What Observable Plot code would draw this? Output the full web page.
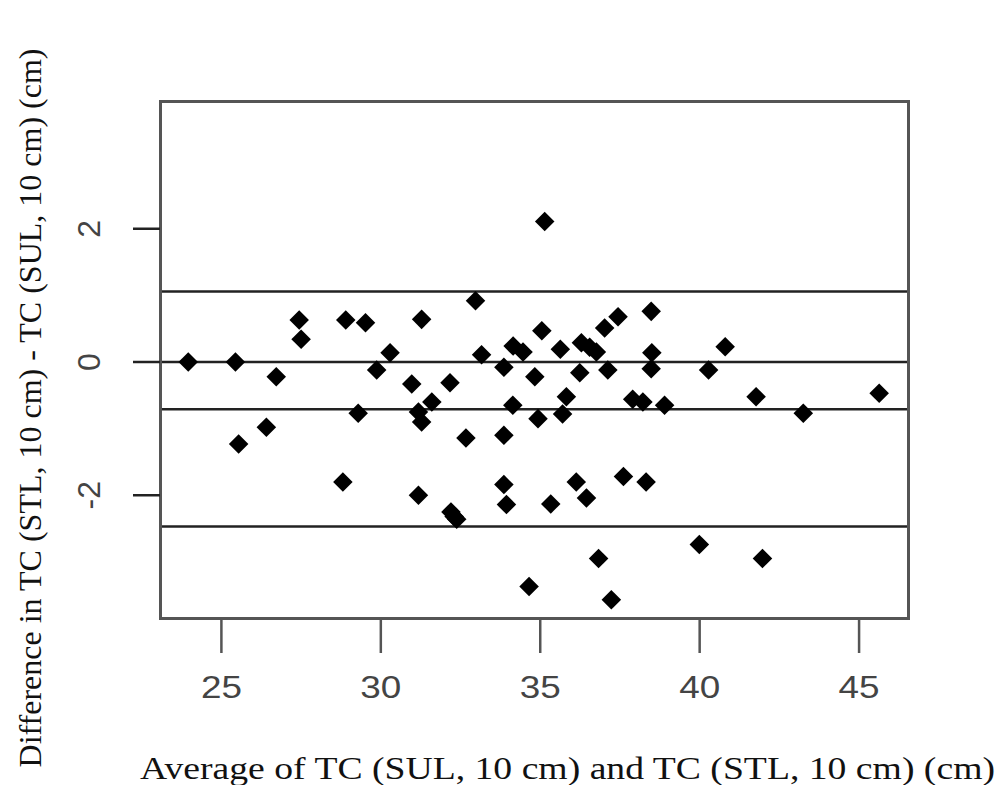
<!DOCTYPE html>
<html>
<head>
<meta charset="utf-8">
<script src="https://cdn.jsdelivr.net/npm/d3@7"></script>
<script src="https://cdn.jsdelivr.net/npm/@observablehq/plot@0.6"></script>
<style>
  html, body { margin: 0; padding: 0; background: #fff; }
</style>
</head>
<body>
<div id="chart"></div>
<script>
// Average of the two measurements (x) and their difference (y)
const avgTC = [23.96, 25.44, 26.72, 27.44, 27.50, 28.90, 29.52, 29.87, 30.29, 35.14,
  32.97, 31.28, 35.05, 33.16, 33.86, 34.15, 34.46, 35.63, 36.29, 36.55,
  36.76, 37.02, 37.44, 36.24, 37.12, 38.48, 38.50, 38.48, 34.83, 32.17,
  30.97, 40.80, 40.28, 29.29, 26.41, 25.54, 28.81, 31.60, 31.18, 31.28,
  34.14, 35.82, 34.93, 35.70, 37.90, 38.22, 38.90, 32.67, 33.86, 31.18,
  32.20, 32.30, 32.38, 33.86, 33.94, 35.33, 36.13, 36.45, 37.61, 38.32,
  36.83, 34.65, 37.23, 41.77, 43.25, 45.63, 39.99, 41.97];
const diffTC = [0.00, 0.00, -0.22, 0.63, 0.34, 0.63, 0.59, -0.12, 0.14, 2.11,
  0.92, 0.64, 0.47, 0.11, -0.08, 0.24, 0.15, 0.19, 0.29, 0.22,
  0.15, 0.51, 0.68, -0.16, -0.12, 0.76, 0.14, -0.10, -0.22, -0.31,
  -0.33, 0.23, -0.12, -0.77, -0.98, -1.23, -1.80, -0.60, -0.75, -0.90,
  -0.65, -0.52, -0.85, -0.78, -0.56, -0.60, -0.65, -1.14, -1.10, -2.00,
  -2.25, -2.32, -2.36, -1.84, -2.14, -2.13, -1.80, -2.04, -1.72, -1.80,
  -2.95, -3.37, -3.57, -0.52, -0.77, -0.47, -2.74, -2.95];
// Reference lines: upper limit, zero, mean difference, lower limit
const refLines = [1.06, 0, -0.71, -2.47];
const xTicks = [25, 30, 35, 40, 45];
const yTicks = [-2, 0, 2];
const xLabel = "Average of TC (SUL, 10 cm) and TC (STL, 10 cm) (cm)";
const yLabel = "Difference in TC (STL, 10 cm) - TC (SUL, 10 cm) (cm)";

const points = avgTC.map((x, i) => ({x, y: diffTC[i]}));

const chart = Plot.plot({
  width: 1000,
  height: 785,
  marginLeft: 160,
  marginRight: 92,
  marginTop: 101,
  marginBottom: 167,
  x: {domain: [23.09, 46.55]},
  y: {domain: [-3.85, 3.91]},
  style: {fontFamily: "Liberation Sans, Arial, sans-serif", fontSize: "32px", background: "#fff", color: "#444", overflow: "visible"},
  marks: [
    Plot.ruleY(refLines, {stroke: "#222", strokeWidth: 2.5}),
    Plot.dot(points, {x: "x", y: "y", symbol: "diamond2", r: 8.8, fill: "#000", stroke: "none"}),
    Plot.frame({stroke: "#555", strokeWidth: 3}),
    Plot.axisX({ticks: xTicks, tickSize: 35, tickPadding: 22, stroke: "#555", strokeWidth: 2.5, fill: "#444", label: null, fontSize: 32}),
    Plot.axisY({ticks: yTicks, tickSize: 27, tickFormat: () => "", stroke: "#222", strokeWidth: 2.5, label: null}),
    Plot.text(yTicks, {y: d => d, frameAnchor: "left", dx: -71, rotate: -90, text: d => String(d), fill: "#444", fontSize: 32, fontFamily: "Liberation Sans, Arial, sans-serif", textAnchor: "middle", lineAnchor: "middle"}),
    Plot.text([yLabel], {frameAnchor: "left", dx: -130, dy: 48, rotate: -90, fontSize: 32, fill: "#111", fontFamily: "Liberation Serif, Times New Roman, serif", textAnchor: "middle", lineAnchor: "middle"}),
    Plot.text([xLabel], {frameAnchor: "bottom", dx: 33, dy: 150, fontSize: 32, fill: "#111", fontFamily: "Liberation Serif, Times New Roman, serif", textAnchor: "middle", lineAnchor: "middle"})
  ]
});

// stretch horizontal texts as in the (horizontally stretched) reference
const sel = d3.select(chart).selectAll("text");
sel.filter(function() { return this.textContent === xLabel; })
  .attr("textLength", 855).attr("lengthAdjust", "spacingAndGlyphs");
sel.filter(function() { return xTicks.map(String).includes(this.textContent) && !this.getAttribute("transform")?.includes("rotate"); })
  .attr("textLength", 41).attr("lengthAdjust", "spacingAndGlyphs");

document.getElementById("chart").appendChild(chart);
</script>
</body>
</html>
